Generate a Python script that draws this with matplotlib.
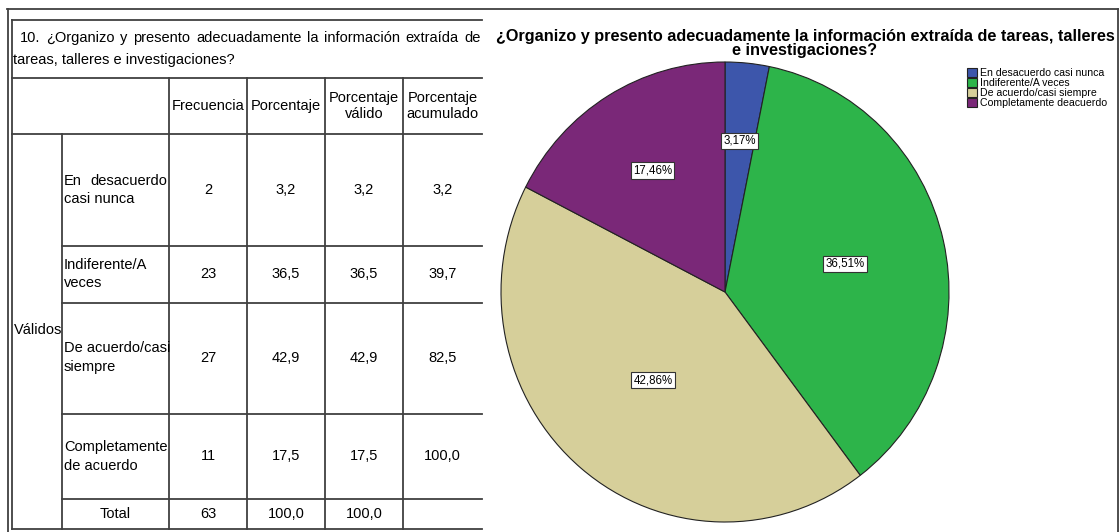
import matplotlib
matplotlib.use("Agg")
import numpy as np
import matplotlib.pyplot as plt

plt.rcParams['font.family'] = ['Liberation Sans', 'DejaVu Sans']

# data
legend_labels = ["En desacuerdo casi nunca", "Indiferente/A veces",
                 "De acuerdo/casi siempre", "Completamente deacuerdo"]
row_labels = [["En desacuerdo", "casi nunca"], ["Indiferente/A", "veces"],
              ["De acuerdo/casi", "siempre"], ["Completamente", "de acuerdo"]]
frecuencia = [2, 23, 27, 11]
porcentaje = [3.2, 36.5, 42.9, 17.5]
porc_valido = [3.2, 36.5, 42.9, 17.5]
porc_acumulado = [3.2, 39.7, 82.5, 100.0]
total = [63, 100.0, 100.0]
headers = ["Frecuencia", "Porcentaje", "Porcentaje\nválido", "Porcentaje\nacumulado"]
colors = ["#3d56ab", "#2db44a", "#d6cf9a", "#7a2878"]

table_title = ["10.", "¿Organizo", "y", "presento", "adecuadamente", "la",
               "información", "extraída", "de"]
table_title2 = "tareas, talleres e investigaciones?"
pie_title = ["¿Organizo y presento adecuadamente la información extraída de tareas, talleres",
             "e investigaciones?"]


def fmt(v):
    return f"{v:.1f}".replace(".", ",")


fig = plt.figure(figsize=(11.2, 5.32), dpi=100)
bg = fig.add_axes([0, 0, 1, 1])
bg.set_xlim(0, 1120)
bg.set_ylim(532, 0)
bg.axis("off")

lc = "#404040"
lw = 1.3

# outer frame
bg.plot([7, 1118], [9, 9], color=lc, lw=lw)
bg.plot([8, 8], [9, 532], color=lc, lw=lw)
bg.plot([1118, 1118], [9, 532], color=lc, lw=lw)

# table grid
cols = [12, 62, 169, 247, 325, 403, 482]
rows = [134, 246, 303, 414, 499, 529]
bg.plot([12, 12], [20, 529], color=lc, lw=lw)
for y in [20, 78, 134, 529]:
    bg.plot([12, 482], [y, y], color=lc, lw=lw)
for y in rows[1:-1]:
    bg.plot([62, 482], [y, y], color=lc, lw=lw)
for x in cols[2:6]:
    bg.plot([x, x], [78, 529], color=lc, lw=lw)
bg.plot([62, 62], [134, 529], color=lc, lw=lw)

fs = 10.5
renderer = fig.canvas.get_renderer()


def justify(words, x0, x1, y):
    texts = [bg.text(x0, y, w, fontsize=fs, va="center", ha="left") for w in words]
    widths = [t.get_window_extent(renderer).width for t in texts]
    gap = (x1 - x0 - sum(widths)) / (len(words) - 1)
    x = x0
    for t, w in zip(texts, widths):
        t.set_x(x)
        x += w + gap


justify(table_title, 20, 481, 38)
bg.text(13, 60, table_title2, fontsize=fs, va="center")

col_centers = [(cols[i] + cols[i + 1]) / 2 for i in range(2, 6)]
for cx, h in zip(col_centers, headers):
    bg.text(cx, 106, h, fontsize=fs, ha="center", va="center", linespacing=1.15)

bg.text(14, 330, "Válidos", fontsize=fs, va="center")

label_y = [(181, 199), (265, 283), (348, 367), (447, 466)]
for i, lines in enumerate(row_labels):
    y1, y2 = label_y[i]
    if i == 0:
        justify(lines[0].split(), 64, 167, y1)
    else:
        bg.text(64, y1, lines[0], fontsize=fs, va="center")
    bg.text(64, y2, lines[1], fontsize=fs, va="center")
    yc = (rows[i] + rows[i + 1]) / 2
    vals = [str(frecuencia[i]), fmt(porcentaje[i]), fmt(porc_valido[i]), fmt(porc_acumulado[i])]
    for cx, v in zip(col_centers, vals):
        bg.text(cx, yc, v, fontsize=fs, ha="center", va="center")

yt = (rows[4] + rows[5]) / 2
bg.text((cols[1] + cols[2]) / 2, yt, "Total", fontsize=fs, ha="center", va="center")
for cx, v in zip(col_centers, [str(total[0]), fmt(total[1]), fmt(total[2])]):
    bg.text(cx, yt, v, fontsize=fs, ha="center", va="center")

# pie chart title
bg.text(805, 36, pie_title[0], fontsize=11.7, fontweight="bold", ha="center", va="center")
bg.text(805, 51, pie_title[1], fontsize=11.7, fontweight="bold", ha="center", va="center")

# pie
cx, cy, rx, ry = 725, 292, 224, 230
ax = fig.add_axes([(cx - rx) / 1120, (532 - cy - ry) / 532, 2 * rx / 1120, 2 * ry / 532])
wedges, _ = ax.pie(frecuencia, colors=colors, startangle=90, counterclock=False,
                   wedgeprops=dict(edgecolor="#222222", linewidth=0.8))
ax.set_aspect("auto")
ax.set_xlim(-1, 1)
ax.set_ylim(-1, 1)
ax.axis("off")

pct = [100 * f / sum(frecuencia) for f in frecuencia]
label_dist = [0.66, 0.55, 0.5, 0.62]
for w, p, d in zip(wedges, pct, label_dist):
    ang = np.deg2rad((w.theta1 + w.theta2) / 2)
    ax.text(d * np.cos(ang), d * np.sin(ang), f"{p:.2f}%".replace(".", ","),
            fontsize=8.3, ha="center", va="center",
            bbox=dict(boxstyle="square,pad=0.2", fc="white", ec="#333333", lw=0.8))

ax.legend(wedges, legend_labels, loc="upper left", bbox_to_anchor=(967, 68),
          bbox_transform=bg.transData, frameon=False, fontsize=7.6,
          handlelength=0.9, handleheight=0.85, handletextpad=0.3,
          labelspacing=0.0, borderpad=0, borderaxespad=0)

fig.savefig("out.png", dpi=100)
